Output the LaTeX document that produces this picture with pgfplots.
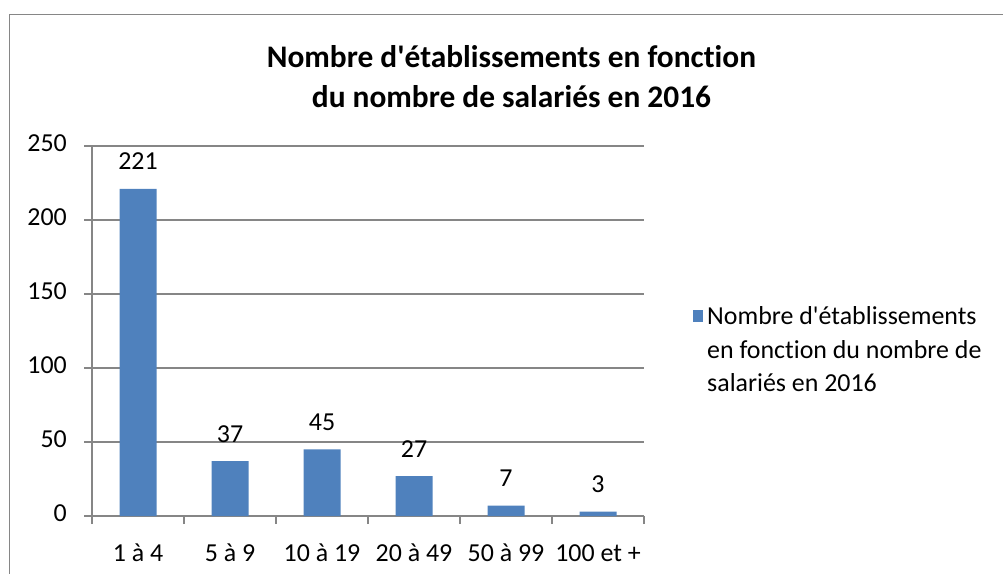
\documentclass[border=0pt]{standalone}
\usepackage{pgfplots}
\pgfplotsset{compat=1.18}
\usepackage{fontspec}
\setmainfont{Carlito}[Ligatures={TeXOff,NoCommon}]
\definecolor{barblue}{HTML}{4F81BD}
\definecolor{gridgray}{HTML}{868686}
\newcommand{\apos}{{\char"27}}
\begin{document}
\begin{tikzpicture}[x=1bp,y=1bp]
\path[use as bounding box] (0,0) rectangle (1003,-574);
\draw[gridgray, line width=1.5bp] (9.5,-574) -- (9.5,-14.5) -- (1003,-14.5);
\node[align=center, font=\fontsize{31.5}{40}\selectfont\bfseries] at (511.5,-77) {Nombre d\apos établissements en fonction\\du nombre de salariés en 2016};
\begin{axis}[
  at={(92bp,-516bp)}, anchor=south west, scale only axis,
  width=552bp, height=370bp,
  xmin=-0.5, xmax=5.5, ymin=0, ymax=250,
  axis x line=bottom, axis y line=left,
  axis line style={draw=gridgray, line width=1.2bp, -},
  ytick={0,50,100,150,200,250},
  ymajorgrids, major grid style={draw=gridgray, line width=1.2bp},
  xtick={0,1,2,3,4,5},
  xticklabels={1 à 4,5 à 9,10 à 19,20 à 49,50 à 99,100 et +},
  minor xtick={-0.5,0.5,1.5,2.5,3.5,4.5,5.5},
  x tick style={draw=none},
  minor x tick style={draw=gridgray, line width=1.2bp},
  y tick style={draw=gridgray, line width=1.2bp},
  tick align=outside, major tick length=8bp, minor tick length=8bp,
  /pgf/number format/assume math mode=true,
  tick label style={font=\fontsize{26}{30}\selectfont},
  xticklabel style={anchor=base, yshift=-37bp, inner sep=0pt},
  yticklabel style={anchor=east, inner sep=0pt},
  ticklabel shift=0pt,
  typeset ticklabels with strut=false,
  every y tick label/.append style={xshift=-17bp},
  ybar, bar width=37bp, bar shift=0pt,
  nodes near coords,
  every node near coord/.append style={anchor=base, yshift=19bp, inner sep=0pt, font=\fontsize{26}{30}\selectfont, text=black},
  legend style={at={(1.0888,0.5886)}, anchor=north west, draw=none, fill=none,
    font=\fontsize{26}{34}\selectfont, cells={anchor=base west},
    inner sep=0pt, column sep=2bp},
  legend image code/.code={\fill[barblue] (0bp,2bp) rectangle (10bp,14bp);},
]
\addplot[fill=barblue, draw=none] coordinates {(0,221) (1,37) (2,45) (3,27) (4,7) (5,3)};
\addlegendentry{\begin{tabular}[t]{@{}l@{}}Nombre d\apos établissements\\en fonction du nombre de\\salariés en 2016\end{tabular}}
\end{axis}
\end{tikzpicture}
\end{document}
